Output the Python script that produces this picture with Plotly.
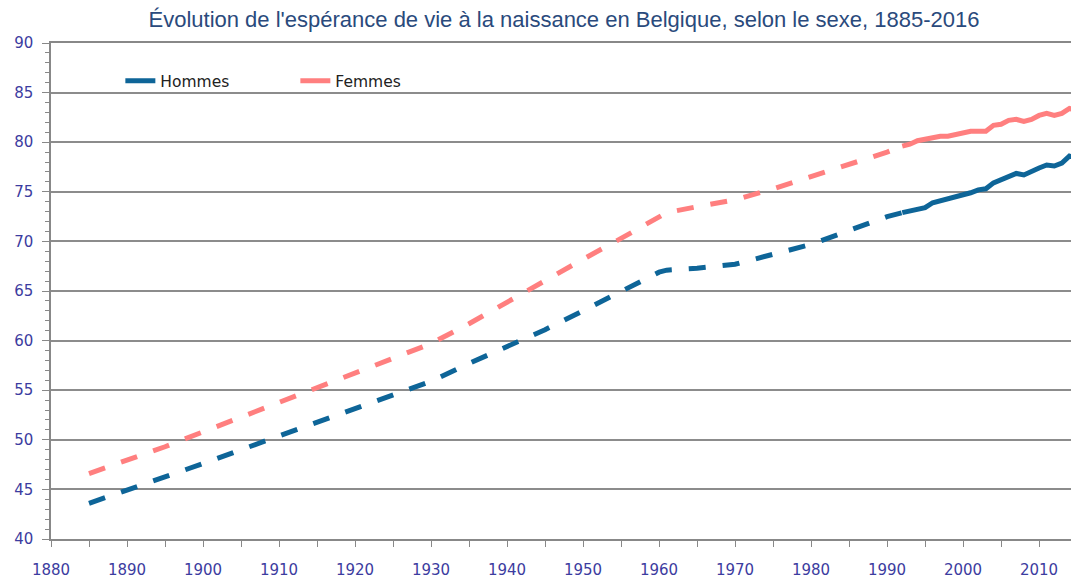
import plotly.graph_objects as go

# Dashed (periodic estimates) part
years_hist = [1885, 1890, 1895, 1900, 1905, 1910, 1915, 1920, 1925, 1930, 1935, 1940,
              1945, 1950, 1955, 1960, 1961, 1965, 1970, 1975, 1980, 1985, 1990, 1992]
hommes_hist = [43.6, 44.9, 46.2, 47.6, 49.0, 50.4, 51.8, 53.2, 54.6, 55.9, 57.7, 59.4,
               61.1, 63.0, 64.9, 66.9, 67.1, 67.3, 67.7, 68.7, 69.7, 71.1, 72.5, 72.9]
femmes_hist = [46.6, 47.9, 49.3, 50.8, 52.3, 53.7, 55.3, 56.7, 58.2, 59.7, 61.7, 63.9,
               66.1, 68.2, 70.3, 72.5, 72.9, 73.5, 74.2, 75.3, 76.5, 77.8, 79.0, 79.6]

# Annual part
years_annual = list(range(1992, 2017))
hommes_annual = [72.9, 73.1, 73.3, 73.4, 73.9, 74.1, 74.3, 74.5, 74.6, 74.9, 75.2, 75.3,
                 75.9, 76.2, 76.5, 76.85, 76.7, 77.1, 77.4, 77.7, 77.6, 77.9, 78.6, 78.4, 78.9]
femmes_annual = [79.6, 79.8, 80.15, 80.3, 80.5, 80.6, 80.6, 80.8, 81.0, 81.1, 81.1, 81.1,
                 81.7, 81.8, 82.2, 82.3, 82.1, 82.3, 82.7, 82.9, 82.7, 82.9, 83.4, 83.2, 83.6]

col_h = "#0E6598"
col_f = "#FF7F7F"
lw = 5
tick_col = "#3C3CA0"
font_v = "DejaVu Sans, Verdana, sans-serif"

fig = go.Figure()
fig.add_trace(go.Scatter(x=years_hist, y=hommes_hist, mode="lines", showlegend=False,
                         line=dict(color=col_h, width=lw, dash="17px,17px")))
fig.add_trace(go.Scatter(x=years_hist, y=femmes_hist, mode="lines", showlegend=False,
                         line=dict(color=col_f, width=lw, dash="17px,17px")))
fig.add_trace(go.Scatter(x=years_annual, y=hommes_annual, mode="lines", name="Hommes",
                         line=dict(color=col_h, width=lw)))
fig.add_trace(go.Scatter(x=years_annual, y=femmes_annual, mode="lines", name="Femmes",
                         line=dict(color=col_f, width=lw)))

fig.update_layout(
    width=1071, height=582,
    margin=dict(l=51, r=0, t=43, b=43),
    paper_bgcolor="white", plot_bgcolor="white",
    title=dict(text="Évolution de l'espérance de vie à la naissance en Belgique, selon le sexe, 1885-2016",
               x=564/1071, xanchor="center", y=1 - 19/582, yanchor="middle",
               font=dict(family="Liberation Sans, Arial, sans-serif", size=22, color="#2A4A7C")),
    legend=dict(orientation="h", x=0.068, y=0.923, xanchor="left", yanchor="middle",
                bgcolor="rgba(0,0,0,0)", entrywidth=130, entrywidthmode="pixels",
                font=dict(family=font_v, size=15.5, color="#222222"),
                traceorder="normal"),
    xaxis=dict(range=[1880, 2014.2], dtick=10, tick0=1880, showgrid=False, zeroline=False,
               showline=True, mirror=True, linecolor="#888888", linewidth=1.5,
               ticks="outside", ticklen=6, tickcolor="#888888", tickwidth=1.2,
               minor=dict(dtick=5, tick0=1880, ticks="outside", ticklen=6, tickcolor="#888888", tickwidth=1.2, showgrid=False),
               ticklabelstandoff=10,
               tickfont=dict(family=font_v, size=15, color=tick_col)),
    yaxis=dict(range=[40, 90], dtick=5, tick0=40, showgrid=True, gridcolor="#8C8C8C", gridwidth=1.5,
               zeroline=False, showline=True, linecolor="#888888", linewidth=1.5,
               ticks="outside", ticklen=7, tickcolor="#888888", tickwidth=1.2,
               minor=dict(dtick=1, ticks="outside", ticklen=4, tickcolor="#888888", tickwidth=1, showgrid=False),
               ticklabelstandoff=6,
               tickfont=dict(family=font_v, size=15, color=tick_col)),
)

fig.write_html("out.html", config={"displayModeBar": False},
               post_script="document.body.style.margin='0';document.body.style.overflow='hidden';")
